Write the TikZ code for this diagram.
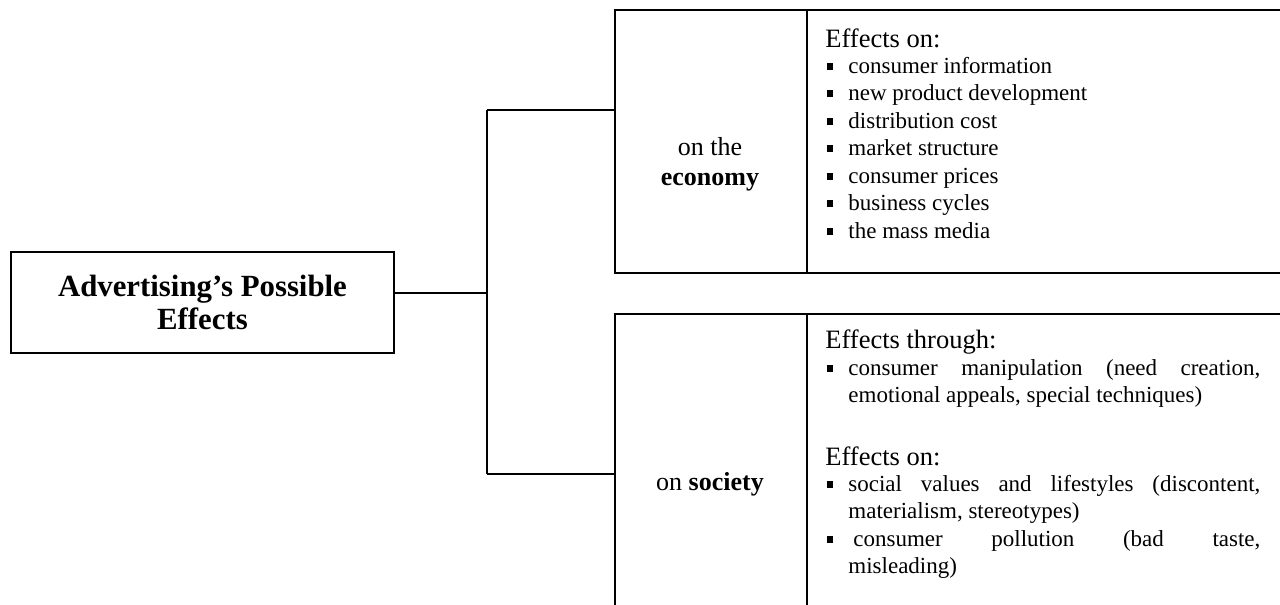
\documentclass[tikz,border=0pt]{standalone}
\usepackage{fontspec}
\setmainfont{Liberation Serif}
\begin{document}
\begin{tikzpicture}[x=0.5pt,y=-0.5pt,
  box/.style={draw,line width=1pt,inner sep=0pt,anchor=north west},
  conn/.style={line width=1pt},
  txt/.style={inner sep=0pt,anchor=base west,font=\fontsize{11.5}{13.8}\selectfont},
  hdr/.style={inner sep=0pt,anchor=base west,font=\fontsize{13.25}{15}\selectfont},
  lab/.style={inner sep=0pt,anchor=base,font=\fontsize{13}{15}\selectfont},
  bul/.style={fill,inner sep=0pt,minimum width=3pt,minimum height=3.4pt,anchor=south west},
]
\useasboundingbox (0,0) rectangle (1280,605);

% main box
\node[box,minimum width=191.5pt,minimum height=50.5pt,align=center,
      font=\fontsize{15.4}{16.5}\selectfont\bfseries] (title) at (10,251)
  {Advertising’s Possible\\Effects};

% economy box
\node[box,minimum width=96pt,minimum height=131.5pt] (econL) at (614,9) {};
\node[box,minimum width=236.75pt,minimum height=131.5pt] (econR) at (806,9) {};
% society box
\node[box,minimum width=96pt,minimum height=153.5pt] (socL) at (614,313) {};
\node[box,minimum width=236.75pt,minimum height=153.5pt] (socR) at (806,313) {};

% connectors
\coordinate (jm) at (487,293);
\coordinate (jt) at (487,110);
\coordinate (jb) at (487,474);
\draw[conn] (jm -| title.east) -- (jm);
\draw[conn] (jt) -- (jb);
\draw[conn] (jt) -- (jt -| econL.west);
\draw[conn] (jb) -- (jb -| socL.west);

% left column labels
\node[lab] (l1) at (710,155) {on the};
\node[lab] (l2) at (710,185) {\bfseries economy};
\node[lab] (l3) at (710,490) {on \bfseries society};

% economy list
\node[hdr] (h1) at (825,47) {Effects on:};
\foreach \t [count=\i] in {consumer information,new product development,distribution cost,market structure,consumer prices,business cycles,the mass media}{
  \node[bul] (eb\i) at (827,{73+27.5*(\i-1)-3}) {};
  \node[txt] (et\i) at (848,{73+27.5*(\i-1)}) {\t};
}

% society list
\node[hdr] (h2) at (825,348) {Effects through:};
\node[bul] (sb1) at (827,372) {};
\node[txt] (st1) at (848,375) {\makebox[206pt][s]{consumer manipulation (need creation,}};
\node[txt] (st2) at (848,402) {emotional appeals, special techniques)};
\node[hdr] (h3) at (825,465) {Effects on:};
\node[bul] (sb2) at (827,488) {};
\node[txt] (st3) at (848,491) {\makebox[206pt][s]{social values and lifestyles (discontent,}};
\node[txt] (st4) at (848,518) {materialism, stereotypes)};
\node[bul] (sb3) at (827,543) {};
\node[txt] (st5) at (853,546) {\makebox[203.5pt][s]{consumer pollution (bad taste,}};
\node[txt] (st6) at (848,573) {misleading)};
\end{tikzpicture}
\end{document}
